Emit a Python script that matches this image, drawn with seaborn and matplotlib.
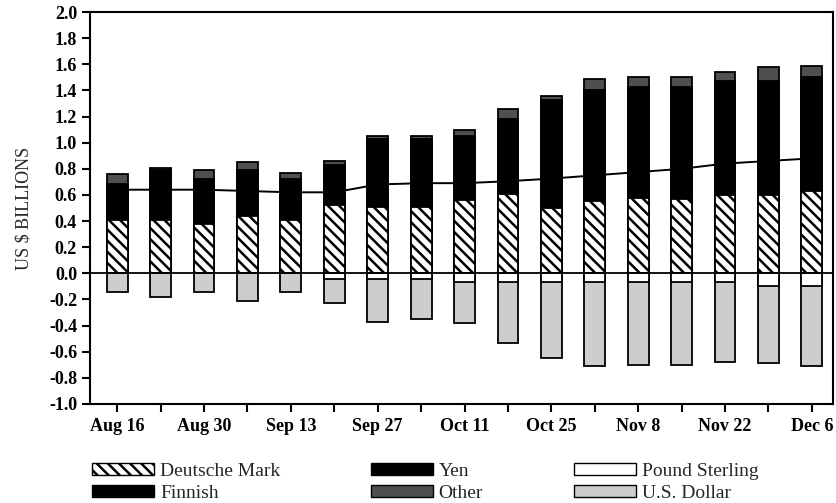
import numpy as np
import pandas as pd
import matplotlib
matplotlib.use("Agg")
import matplotlib.pyplot as plt
import seaborn as sns
from matplotlib.patches import Patch

# weekly positions, US$ billions
dates = ["Aug 16", "Aug 23", "Aug 30", "Sep 6", "Sep 13", "Sep 20", "Sep 27", "Oct 4", "Oct 11",
         "Oct 18", "Oct 25", "Nov 1", "Nov 8", "Nov 15", "Nov 22", "Nov 29", "Dec 6"]
deutsche_mark = [0.41, 0.41, 0.38, 0.44, 0.41, 0.52, 0.51, 0.51, 0.565, 0.61, 0.50, 0.55, 0.58, 0.57, 0.60, 0.60, 0.63]
finnish = [0.0, 0.0, 0.0, 0.0, 0.0, 0.0, 0.0, 0.0, 0.0, 0.0, 0.0, 0.0, 0.0, 0.0, 0.0, 0.0, 0.0]
yen = [0.27, 0.38, 0.34, 0.35, 0.31, 0.31, 0.52, 0.52, 0.49, 0.57, 0.825, 0.855, 0.85, 0.86, 0.87, 0.87, 0.87]
other = [0.08, 0.02, 0.07, 0.06, 0.05, 0.03, 0.02, 0.02, 0.04, 0.08, 0.03, 0.08, 0.07, 0.07, 0.07, 0.11, 0.09]
pound = [0.0, 0.0, 0.0, 0.0, 0.0, -0.04, -0.04, -0.04, -0.07, -0.07, -0.07, -0.07, -0.07, -0.07, -0.07, -0.10, -0.10]
usd = [-0.14, -0.18, -0.14, -0.21, -0.145, -0.19, -0.33, -0.31, -0.31, -0.46, -0.58, -0.64, -0.63, -0.63, -0.61, -0.59, -0.61]
net = [0.64, 0.64, 0.64, 0.63, 0.62, 0.62, 0.68, 0.69, 0.69, 0.705, 0.725, 0.75, 0.775, 0.80, 0.84, 0.86, 0.88]

sns.set_style("ticks")
plt.rcParams['font.family'] = ['Liberation Serif', 'DejaVu Serif']
plt.rcParams['axes.unicode_minus'] = False
plt.rcParams['hatch.linewidth'] = 1.8

c_other = "#4f4f4f"
c_usd = "#cdcdcd"

df = pd.DataFrame({'date': dates, 'dm': deutsche_mark, 'fin': finnish, 'yen': yen,
                   'other': other, 'pound': pound, 'usd': usd})
# cumulative tops for overlay stacking
df['top_fin'] = df['dm'] + df['fin']
df['top_yen'] = df['top_fin'] + df['yen']
df['top_other'] = df['top_yen'] + df['other']
df['bot_usd'] = df['pound'] + df['usd']

fig = plt.figure(figsize=(8.36, 5.03), dpi=100)
ax = fig.add_axes([0.108, 0.197, 0.888, 0.779])

bar_kw = dict(x='date', data=df, ax=ax, width=0.48, saturation=1, errorbar=None,
              edgecolor='black', linewidth=1.3)
sns.barplot(y='top_other', color=c_other, **bar_kw)
sns.barplot(y='top_yen', color='black', **bar_kw)
sns.barplot(y='top_fin', color='black', **bar_kw)
sns.barplot(y='dm', color='white', hatch='\\' * 3, **bar_kw)
sns.barplot(y='bot_usd', color=c_usd, **bar_kw)
sns.barplot(y='pound', color='white', **bar_kw)

ax.axhline(0, color='black', lw=1.3, zorder=3)
sns.lineplot(x=np.arange(len(dates)), y=net, color='black', lw=1.4, ax=ax, zorder=4)

yt = np.round(np.arange(-1.0, 2.01, 0.2), 1)
ax.set_ylim(-1.0, 2.0)
ax.set_yticks(yt)
ax.set_yticklabels([f"{v:.1f}".replace("-0.0", "0.0") for v in yt])
ax.set_xlim(-0.62, len(dates) - 0.52)
ax.set_xticks(np.arange(len(dates)))
ax.set_xticklabels([d if i % 2 == 0 else "" for i, d in enumerate(dates)])
ax.tick_params(axis='both', direction='out', length=6, width=1.5, labelsize=13, colors='black')
ax.tick_params(axis='x', pad=4)
for lab in ax.get_xticklabels() + ax.get_yticklabels():
    lab.set_fontweight('bold')
for s in ax.spines.values():
    s.set_visible(True)
    s.set_linewidth(1.5)
    s.set_color('black')
ax.set_xlabel("")
ax.set_ylabel("US \\$ BILLIONS", fontsize=13, labelpad=12)

handles = [Patch(facecolor='white', edgecolor='black', hatch='\\' * 3, label='Deutsche Mark'),
           Patch(facecolor='black', edgecolor='black', label='Finnish'),
           Patch(facecolor='black', edgecolor='black', label='Yen'),
           Patch(facecolor=c_other, edgecolor='black', label='Other'),
           Patch(facecolor='white', edgecolor='black', label='Pound Sterling'),
           Patch(facecolor=c_usd, edgecolor='black', label='U.S. Dollar')]
fig.legend(handles=handles, ncol=3, loc='center left', bbox_to_anchor=(0.110, 0.041),
           frameon=False, fontsize=14, handlelength=3.2, handleheight=0.6,
           handletextpad=0.3, columnspacing=4.65, labelspacing=0.25,
           borderaxespad=0, borderpad=0)

fig.savefig("out.png", dpi=100)
